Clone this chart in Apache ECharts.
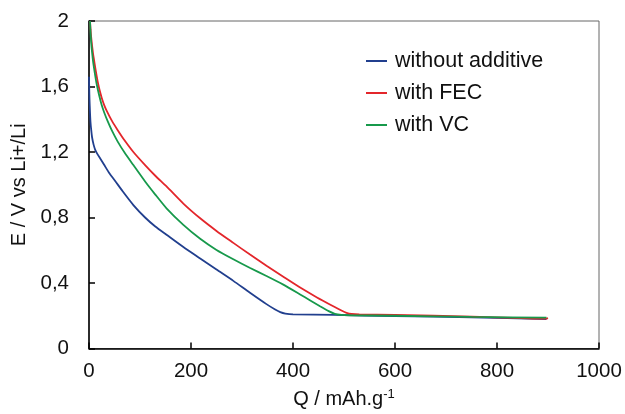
<!DOCTYPE html>
<html>
<head>
<meta charset="utf-8">
<script src="https://cdn.jsdelivr.net/npm/echarts@6/dist/echarts.min.js"></script>
<style>html,body{margin:0;padding:0;background:#fff;}#c{width:625px;height:414px;}</style>
</head>
<body>
<div id="c"></div>
<script>
const seriesNames = ['without additive', 'with FEC', 'with VC'];
const withoutAdditive = [[0,1.66],[0.5,1.58],[1,1.52],[2,1.44],[3,1.38],[4.5,1.33],[6,1.29],[9,1.245],[12,1.215],[16,1.19],[22,1.16],[30,1.12],[40,1.07],[52,1.02],[66,0.96],[87,0.876],[110,0.80],[130,0.745],[152,0.695],[185,0.62],[218,0.55],[250,0.482],[283,0.413],[315,0.342],[348,0.271],[365,0.238],[375,0.222],[385,0.213],[400,0.208],[480,0.205],[600,0.198],[750,0.19],[897,0.18]];
const withFEC = [[2,2.0],[3,1.95],[4,1.91],[6,1.85],[8,1.80],[10,1.76],[12,1.72],[15,1.665],[18,1.615],[21,1.575],[25,1.53],[30,1.485],[35,1.45],[45,1.39],[56,1.335],[70,1.27],[87,1.20],[110,1.12],[130,1.055],[152,0.99],[185,0.885],[218,0.795],[250,0.718],[283,0.645],[315,0.575],[348,0.505],[381,0.438],[414,0.372],[447,0.312],[479,0.258],[495,0.232],[505,0.218],[515,0.211],[530,0.208],[600,0.205],[750,0.195],[895,0.182],[900,0.186]];
const withVC = [[2,2.0],[3,1.93],[4,1.88],[5,1.84],[7,1.78],[9,1.73],[12,1.67],[15,1.615],[20,1.545],[25,1.485],[30,1.44],[37,1.385],[45,1.33],[56,1.265],[70,1.195],[87,1.12],[110,1.02],[130,0.94],[152,0.856],[185,0.755],[218,0.67],[250,0.602],[283,0.545],[315,0.493],[348,0.443],[381,0.39],[414,0.33],[433,0.295],[453,0.258],[470,0.228],[482,0.212],[495,0.205],[510,0.203],[600,0.2],[750,0.193],[897,0.188]];
const xTicks = [0, 200, 400, 600, 800, 1000];
const yTicks = [0, 0.4, 0.8, 1.2, 1.6, 2];
const colors = ['#213f8e', '#e3262b', '#17994b'];

const chart = echarts.init(document.getElementById('c'));
const font = 'Liberation Sans, Arial, sans-serif';
chart.setOption({
  animation: false,
  grid: {left: 89, right: 26, top: 21, bottom: 62, show: true, borderColor: '#666', borderWidth: 1},
  legend: {
    orient: 'vertical', left: 361, top: 45, itemGap: 10,
    itemWidth: 21, itemHeight: 2, icon: 'rect',
    textStyle: {fontFamily: font, fontSize: 21.5, color: '#111', padding: [0,0,0,3]},
    data: seriesNames
  },
  xAxis: {
    type: 'value', min: xTicks[0], max: xTicks[xTicks.length-1], interval: 200,
    name: 'Q / mAh.g{s|-1}', nameLocation: 'middle', nameGap: 39,
    nameTextStyle: {fontFamily: font, fontSize: 20, color: '#111', rich: {s: {fontSize: 13, verticalAlign: 'top', padding: [0,0,10,0], fontFamily: font, color: '#111'}}},
    axisLine: {show: true, lineStyle: {color: '#000', width: 1.5}},
    axisTick: {show: true, inside: true, length: 6, lineStyle: {color: '#000', width: 1.5}},
    axisLabel: {fontFamily: font, fontSize: 20.5, color: '#111', margin: 12, formatter: v => String(v)},
    splitLine: {show: false}
  },
  yAxis: {
    type: 'value', min: yTicks[0], max: yTicks[yTicks.length-1], interval: 0.4,
    name: 'E / V vs Li+/Li', nameLocation: 'middle', nameGap: 60, nameRotate: 90,
    nameTextStyle: {fontFamily: font, fontSize: 20, color: '#111'},
    axisLine: {show: true, lineStyle: {color: '#000', width: 1.5}},
    axisTick: {show: true, inside: true, length: 6, lineStyle: {color: '#000', width: 1.5}},
    axisLabel: {fontFamily: font, fontSize: 20.5, color: '#111', margin: 20,
      formatter: v => String(Number(v.toFixed(1))).replace('.', ',')},
    splitLine: {show: false}
  },
  series: [withoutAdditive, withFEC, withVC].map((d, i) => ({
    name: seriesNames[i], type: 'line', data: d, showSymbol: false, symbol: 'none',
    smooth: 0.2, lineStyle: {color: colors[i], width: 1.8}, itemStyle: {color: colors[i]}
  }))
});
</script>
</body>
</html>
